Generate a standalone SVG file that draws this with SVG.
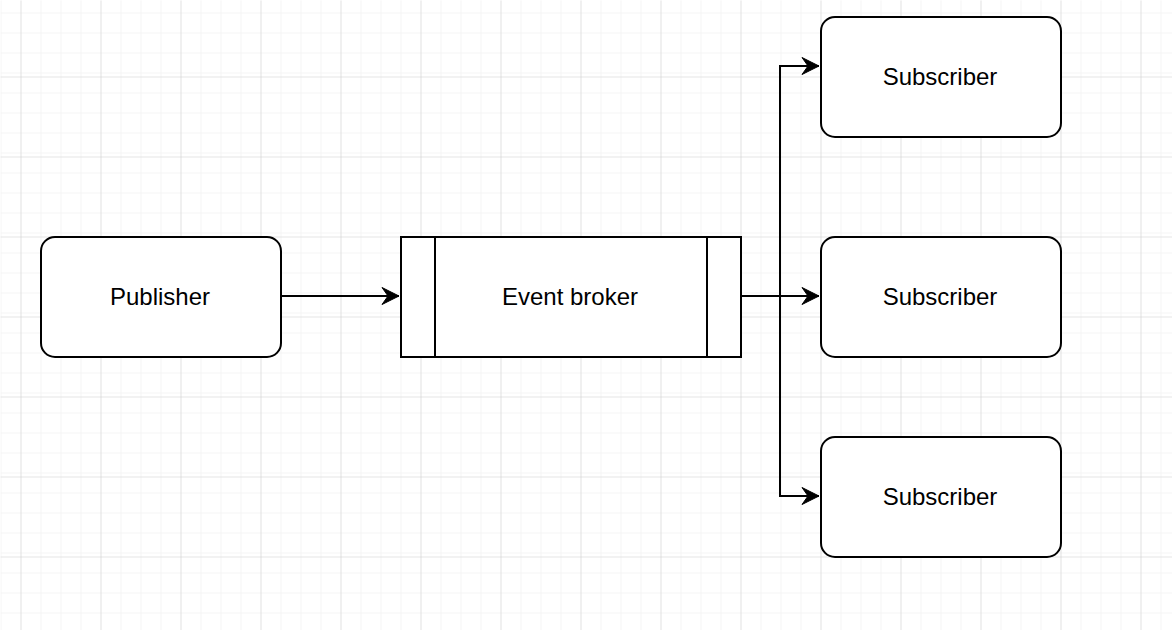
<svg xmlns="http://www.w3.org/2000/svg" width="1172" height="630" viewBox="0 0 1172 630">
<defs>
<pattern id="minor" x="0" y="-4" width="20" height="20" patternUnits="userSpaceOnUse">
<path d="M 20 0 L 0 0 0 20" fill="none" stroke="#ececec" stroke-width="1"/>
</pattern>
<pattern id="major" x="20" y="-4" width="80" height="80" patternUnits="userSpaceOnUse">
<rect width="80" height="80" fill="url(#minor)"/>
<path d="M 80 0 L 0 0 0 80" fill="none" stroke="#cccccc" stroke-width="1"/>
</pattern>
<marker id="arr" markerUnits="userSpaceOnUse" markerWidth="20" markerHeight="20" viewBox="0 0 20 20" refX="18" refY="10" orient="auto">
<path d="M 18 10 L 1 1.5 L 7 10 L 1 18.5 Z" fill="#000" stroke="#000" stroke-width="1"/>
</marker>
<style>
.box{fill:#fff;stroke:#000;stroke-width:2}
.ln{fill:none;stroke:#000;stroke-width:2}
.lbl{font-family:"Liberation Sans",Arial,sans-serif;font-size:24px;fill:#000;text-anchor:middle}
</style>
</defs>
<rect width="1172" height="630" fill="#fff"/>
<rect width="1172" height="630" fill="url(#major)" transform="translate(0.5,0.5)"/>
<g id="connectors">
<path class="ln" d="M 281 296 L 399 296" marker-end="url(#arr)"/>
<path class="ln" d="M 741 296 L 780 296 L 780 66 L 819 66" marker-end="url(#arr)"/>
<path class="ln" d="M 741 296 L 819 296" marker-end="url(#arr)"/>
<path class="ln" d="M 780 296 L 780 496 L 819 496" marker-end="url(#arr)"/>
</g>
<g id="publisher">
<rect class="box" x="41" y="237" width="240" height="120" rx="14"/>
<text class="lbl" x="160" y="305">Publisher</text>
</g>
<g id="broker">
<rect class="box" x="401" y="237" width="340" height="120"/>
<path class="ln" d="M 435 237 L 435 357 M 707 237 L 707 357"/>
<text class="lbl" x="570" y="305">Event broker</text>
</g>
<g id="subscriber1">
<rect class="box" x="821" y="17" width="240" height="120" rx="14"/>
<text class="lbl" x="940" y="85">Subscriber</text>
</g>
<g id="subscriber2">
<rect class="box" x="821" y="237" width="240" height="120" rx="14"/>
<text class="lbl" x="940" y="305">Subscriber</text>
</g>
<g id="subscriber3">
<rect class="box" x="821" y="437" width="240" height="120" rx="14"/>
<text class="lbl" x="940" y="505">Subscriber</text>
</g>
</svg>
